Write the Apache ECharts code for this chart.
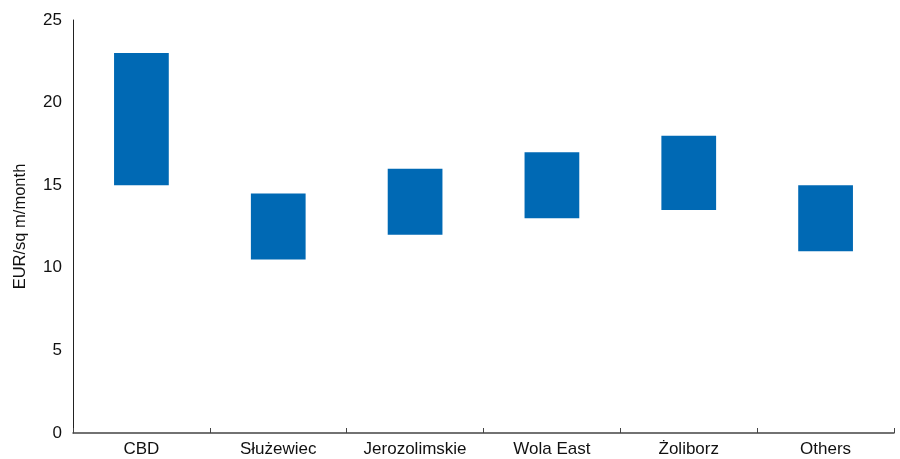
<!DOCTYPE html>
<html>
<head>
<meta charset="utf-8">
<script src="https://cdn.jsdelivr.net/npm/echarts@6/dist/echarts.min.js"></script>
<style>
	html, body { margin: 0; padding: 0; background: #fff; }
	#chart { width: 900px; height: 459px; }
</style>
</head>
<body>
<div id="chart"></div>
<script>
	var categories = ['CBD', 'Służewiec', 'Jerozolimskie', 'Wola East', 'Żoliborz', 'Others'];
	var lowValues = [15, 10.5, 12, 13, 13.5, 11];
	var highValues = [23, 14.5, 16, 17, 18, 15];
	var yTicks = [0, 5, 10, 15, 20, 25];

	// floating bar = invisible base + visible range
	var rangeValues = highValues.map(function(h, i) { return h - lowValues[i]; });

	var chart = echarts.init(document.getElementById('chart'));
	var option = {
		animation: false,
		textStyle: { fontFamily: 'Liberation Sans, Arial, sans-serif' },
		grid: { left: 73, right: 6, top: 20, bottom: 26, containLabel: false },
		xAxis: {
			type: 'category',
			data: categories,
			boundaryGap: true,
			axisLine: { lineStyle: { color: '#444', width: 1.5 } },
			axisTick: { show: true, inside: true, length: 5, lineStyle: { color: '#444' } },
			axisLabel: { color: '#111', fontSize: 17, margin: 8 }
		},
		yAxis: {
			type: 'value',
			min: yTicks[0],
			max: yTicks[yTicks.length - 1],
			interval: 5,
			name: 'EUR/sq m/month',
			nameLocation: 'middle',
			nameGap: 44,
			nameTextStyle: { color: '#111', fontSize: 16.5 },
			axisLine: { show: true, lineStyle: { color: '#222', width: 1 } },
			axisTick: { show: false },
			splitLine: { show: false },
			axisLabel: { color: '#111', fontSize: 17, margin: 11 }
		},
		series: [
			{
				type: 'bar',
				stack: 'range',
				data: lowValues,
				barWidth: '40%',
				itemStyle: { color: 'transparent' },
				silent: true
			},
			{
				type: 'bar',
				stack: 'range',
				data: rangeValues,
				barWidth: '40%',
				itemStyle: { color: '#0069b4' }
			}
		]
	};
	chart.setOption(option);
</script>
</body>
</html>
